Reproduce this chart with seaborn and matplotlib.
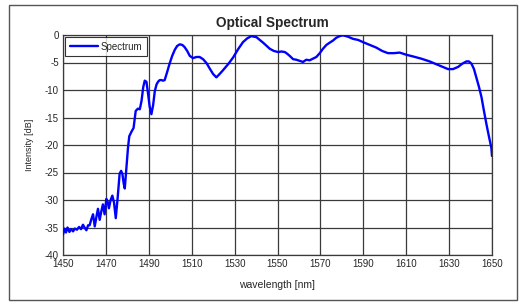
import matplotlib
matplotlib.use("Agg")
import matplotlib.pyplot as plt
import seaborn as sns
import pandas as pd
from matplotlib.patches import Rectangle

wavelength = [1450, 1450.7, 1451.4, 1452.1, 1453, 1453.8, 1454.7, 1455.5, 1456.5, 1457.5,
              1458.4, 1459.3, 1460.2, 1460.9, 1461.7, 1462.4, 1463.2, 1464, 1464.8, 1465.6,
              1466.3, 1467.1, 1467.9, 1468.6, 1469.4, 1470.2, 1470.8, 1471.4, 1472.2, 1473,
              1473.8, 1474.6, 1475.5, 1476.4, 1477.1, 1477.7, 1478.3, 1478.8, 1479.5, 1480.3,
              1480.9, 1481.9, 1482.9, 1483.9, 1484.9, 1485.8, 1486.6, 1487.4, 1488.1, 1488.9,
              1489.6, 1490.4, 1491.2, 1492, 1492.8, 1493.6, 1494.3, 1495.1, 1495.9, 1496.7,
              1497.4, 1498.5, 1499.7, 1500.9, 1502.1, 1503.2, 1504.4, 1505.6, 1506.7, 1507.9,
              1509.1, 1510.6, 1512.2, 1513.7, 1515.3, 1516.9, 1518.4, 1520, 1521.5, 1523,
              1524.6, 1527, 1529.3, 1531.6, 1533.9, 1535.9, 1537.8, 1540.2, 1543.3, 1546.4,
              1548.3, 1550.3, 1551.8, 1553.4, 1554.5, 1555.7, 1557.3, 1558.8, 1560.3, 1561.9,
              1563.4, 1565, 1566.6, 1568.1, 1569.7, 1571.2, 1572.8, 1574.3, 1575.9, 1577.4,
              1579, 1580.5, 1582.8, 1585.2, 1587.6, 1589.9, 1593, 1596.1, 1598.8, 1601.5,
              1604.3, 1607, 1610.1, 1613.2, 1617, 1620.9, 1625.2, 1629.5, 1631.8, 1634.2,
              1636.2, 1638.1, 1639.2, 1640.4, 1641.6, 1642.7, 1643.9, 1645.1, 1646.2, 1647.4,
              1648.6, 1649.7, 1650]

intensity = [-36.3, -35.2, -35.9, -35.0, -35.8, -35.3, -35.7, -35.2, -35.4, -34.9,
             -35.3, -34.5, -35.1, -35.5, -34.6, -34.6, -33.5, -32.6, -34.8, -33.0,
             -31.6, -33.6, -32.0, -30.8, -32.6, -29.8, -30.3, -31.5, -30.0, -29.2,
             -30.5, -33.3, -29.5, -25.2, -24.7, -25.3, -27.0, -27.9, -24.5, -20.5,
             -18.4, -17.6, -16.9, -13.8, -13.4, -13.5, -12.0, -9.5, -8.3, -8.5,
             -10.5, -13.0, -14.4, -12.8, -10.2, -9.0, -8.5, -8.2, -8.2, -8.3,
             -8.2, -6.8, -5.2, -3.8, -2.7, -2.0, -1.7, -1.8, -2.2, -2.9,
             -3.8, -4.2, -4.0, -4.0, -4.4, -5.1, -6.1, -7.1, -7.7, -7.1,
             -6.4, -5.3, -4.1, -2.6, -1.3, -0.6, -0.2, -0.4, -1.4, -2.5,
             -2.9, -3.1, -3.0, -3.1, -3.4, -3.8, -4.4, -4.5, -4.7, -4.9,
             -4.5, -4.6, -4.3, -4.0, -3.3, -2.5, -1.8, -1.4, -1.0, -0.5,
             -0.2, -0.05, -0.3, -0.7, -0.9, -1.3, -1.8, -2.3, -2.9, -3.3,
             -3.3, -3.2, -3.6, -3.9, -4.3, -4.8, -5.5, -6.2, -6.2, -5.8,
             -5.2, -4.8, -4.8, -5.2, -6.2, -7.7, -9.4, -11.3, -13.7, -16.2,
             -18.5, -20.5, -22.0]

x_ticks = [1450, 1470, 1490, 1510, 1530, 1550, 1570, 1590, 1610, 1630, 1650]
y_ticks = [0, -5, -10, -15, -20, -25, -30, -35, -40]
series_name = "Spectrum"

df = pd.DataFrame({"wavelength": wavelength, "intensity": intensity})

sns.set_style("white")
plt.rcParams["font.family"] = ["Liberation Sans", "DejaVu Sans"]

fig = plt.figure(figsize=(5.23, 3.02), dpi=100)
W, H = 523, 302
ax = fig.add_axes([63 / W, 1 - 255 / H, (492 - 63) / W, (255 - 35) / H])

sns.lineplot(data=df, x="wavelength", y="intensity", ax=ax, color="#0000ff",
             linewidth=1.7, label=series_name, zorder=3)

ax.set_xlim(1450, 1650)
ax.set_ylim(-40, 0)
ax.set_xticks(x_ticks)
ax.set_yticks(y_ticks)
ax.set_xticklabels([str(t) for t in x_ticks], fontsize=7)
ax.set_yticklabels([str(t) for t in y_ticks], fontsize=7)
ax.tick_params(axis="both", length=0, pad=3)
ax.grid(True, color="#3a3a3a", linewidth=0.9)
ax.set_axisbelow(True)
for s in ax.spines.values():
    s.set_color("#3a3a3a")
    s.set_linewidth(0.9)

ax.set_xlabel("wavelength [nm]", fontsize=7.5, labelpad=8)
ax.set_ylabel("Intensity [dB]", fontsize=6.5, labelpad=8)
ax.set_title("Optical Spectrum", fontsize=9.8, fontweight="bold", pad=6, x=0.488)

leg = ax.legend(loc="upper left", fontsize=7, frameon=True, fancybox=False,
                edgecolor="black", handlelength=2.9, borderpad=0.45,
                borderaxespad=0.25, handletextpad=0.3)
leg.get_frame().set_linewidth(0.8)

fig.patches.append(Rectangle((9 / W, 1 - 300 / H), (517 - 9) / W, (300 - 5) / H,
                             transform=fig.transFigure, fill=False,
                             edgecolor="#555555", linewidth=1.0))

fig.savefig("out.png", dpi=100)
